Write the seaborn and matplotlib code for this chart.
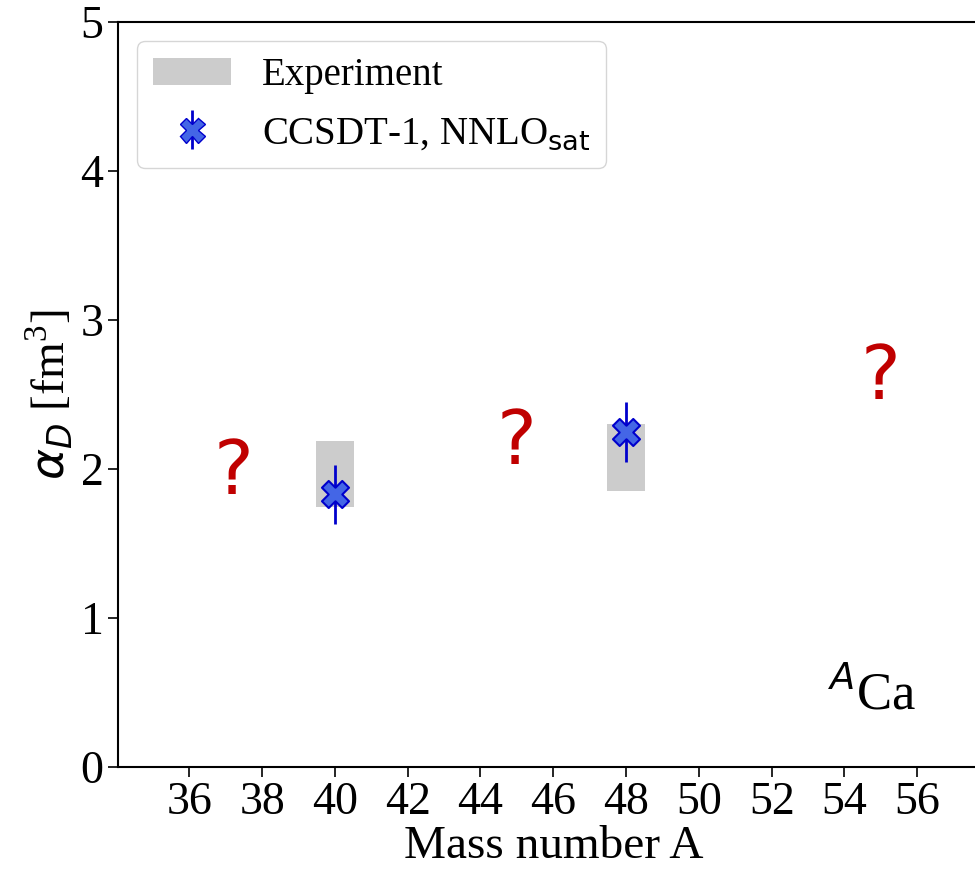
import matplotlib
matplotlib.use("Agg")
import matplotlib.pyplot as plt
import seaborn as sns
import numpy as np
import pandas as pd
from matplotlib.patches import Patch

# Data
exp_A = [40, 48]
exp_low = [1.745, 1.85]
exp_high = [2.19, 2.30]

calc_A = [40, 48]
calc_val = [1.83, 2.25]
calc_err = [0.20, 0.20]

q_A = [37.2, 45.0, 55.0]
q_y = [1.97, 2.17, 2.61]

xticks = list(range(36, 57, 2))
yticks = [0, 1, 2, 3, 4, 5]

sns.set_style("ticks")
plt.rcParams['font.family'] = ['Liberation Serif', 'DejaVu Sans']
plt.rcParams['mathtext.fontset'] = 'custom'
plt.rcParams['mathtext.rm'] = 'Liberation Serif'
plt.rcParams['mathtext.it'] = 'DejaVu Sans:italic'
plt.rcParams['mathtext.sf'] = 'DejaVu Sans'
plt.rcParams['text.color'] = 'black'
plt.rcParams['axes.labelcolor'] = 'black'
plt.rcParams['xtick.color'] = 'black'
plt.rcParams['ytick.color'] = 'black'

fig = plt.figure(figsize=(9.75, 8.69), dpi=100)
W, H = 975, 869
ax = fig.add_axes([118 / W, (H - 767) / H, (990 - 118) / W, (767 - 22) / H])

df_exp = pd.DataFrame({"A": exp_A, "low": exp_low, "high": exp_high})
ax.bar(df_exp["A"], df_exp["high"] - df_exp["low"], bottom=df_exp["low"], width=1.05,
       color="#cccccc", edgecolor="none", label="Experiment", zorder=1)

df_calc = pd.DataFrame({"A": calc_A, "val": calc_val, "err": calc_err})
ax.errorbar(df_calc["A"], df_calc["val"], yerr=df_calc["err"], fmt="none",
            ecolor="#0000cc", elinewidth=2, capsize=0, zorder=2)
sns.scatterplot(data=df_calc, x="A", y="val", marker="X", s=380, color="#4466e6",
                edgecolor="#0000cc", linewidth=1.5, ax=ax, zorder=3, legend=False)

eb = ax.errorbar([], [], yerr=[], fmt="X", color="#0000cc", markerfacecolor="#4466e6",
                 markeredgecolor="#0000cc", markersize=18, elinewidth=2, capsize=0)
handles = [Patch(facecolor="#cccccc", edgecolor="none"), eb]
labels = ["Experiment", r"CCSDT-1, NNLO$_{\mathsf{sat}}$"]
leg = ax.legend(handles, labels, loc="upper left", fontsize=28, frameon=True,
                handlelength=2.0, borderpad=0.4, labelspacing=0.55, handletextpad=0.8,
                borderaxespad=0.5)
leg.get_frame().set_edgecolor("#cccccc")

for x, y in zip(q_A, q_y):
    ax.text(x, y, "?", color="#c00000", fontsize=54, family="DejaVu Sans",
            ha="center", va="center", zorder=4)

ax.text(0.916, 0.077, r"$^{A}$Ca", transform=ax.transAxes, fontsize=38,
        ha="right", va="baseline")

ax.set_xlim(34.04, 58.0)
ax.set_ylim(0, 5)
ax.set_xticks(xticks)
ax.set_yticks(yticks)
ax.tick_params(axis="both", labelsize=33, direction="out", length=7, width=1.2, color="black")
for s in ax.spines.values():
    s.set_linewidth(1.5)
    s.set_color("black")
ax.set_xlabel("Mass number A", fontsize=34, labelpad=1)
ax.set_ylabel(r"$\alpha_D$ [fm$^3$]", fontsize=34)

fig.savefig("out.png", dpi=100)
